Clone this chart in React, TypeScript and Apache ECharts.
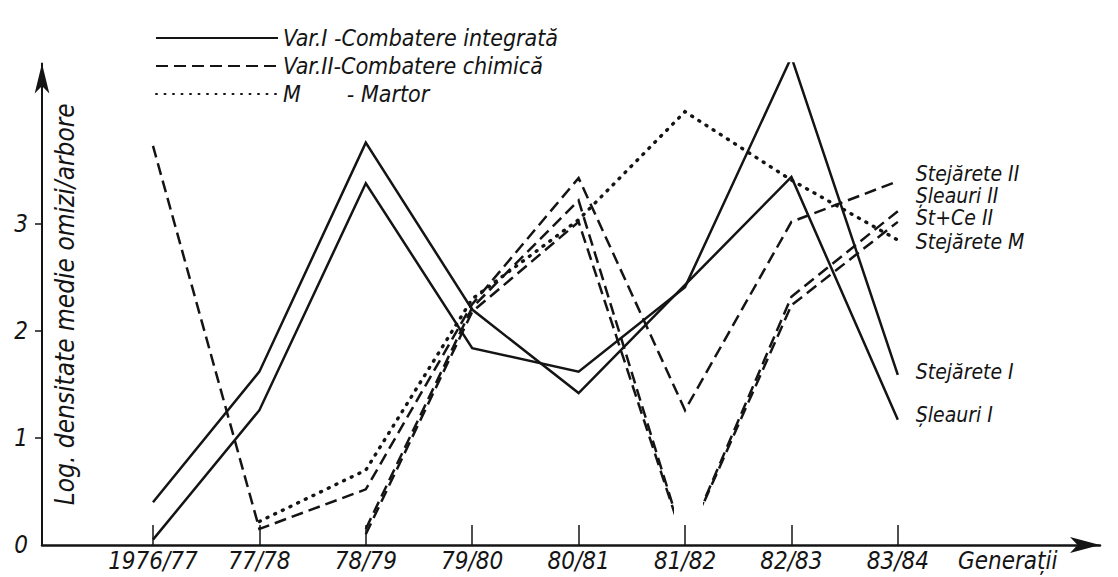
import React, { useEffect, useRef } from "react";
import * as echarts from "echarts";

// ---- data ----
const generations = ["1976/77", "77/78", "78/79", "79/80", "80/81", "81/82", "82/83", "83/84"];
const yTickValues = [0, 1, 2, 3];
const yTickMarks = [1, 2, 3];

const stejareteI = [0.05, 1.26, 3.38, 1.84, 1.62, 2.41, 4.56, 1.59];
const sleauriI = [0.4, 1.62, 3.76, 2.2, 1.42, 2.43, 3.44, 1.17];
const stejareteII = [3.73, 0.15, 0.52, 2.25, 3.43, 1.26, 3.02, 3.4];
const sleauriII = [null, null, 0.15, 2.22, 3.22, 0.0, 2.32, 3.12];
const stCeII = [null, null, 0.1, 2.18, 3.02, 0.0, 2.24, 3.02];
const stejareteM = [null, 0.22, 0.7, 2.3, 3.04, 4.05, 3.41, 2.85];

const legendVarI = "Var.I -Combatere integrată";
const legendVarII = "Var.II-Combatere chimică";
const legendM = "M\u00a0\u00a0\u00a0\u00a0\u00a0\u00a0\u00a0- Martor";

// ---- styles ----
const INK = "#141414";
const FONT = '"DejaVu Sans Condensed", "Liberation Sans Narrow", "DejaVu Sans", sans-serif';
const SOLID: any = "solid";
const DASHED = [12, 6];
const DOTTED = [1, 7.5];

const txt = (size: number) => ({
  fontSize: size,
  fontStyle: "italic" as const,
  fontFamily: FONT,
  color: INK,
});

const toPoints = (arr: (number | null)[]) =>
  arr.map((v, i) => (v == null ? null : [i, v])).filter((p) => p !== null);

function lineSeries(
  name: string,
  values: (number | null)[],
  type: any,
  dy: number,
  opts: { dotted?: boolean; visualColor?: boolean } = {}
) {
  const lineStyle: any = {
    width: opts.dotted ? 3.4 : 2.5,
    type,
    cap: opts.dotted ? "round" : "butt",
    join: "miter",
  };
  if (!opts.visualColor) lineStyle.color = INK;
  return {
    type: "line",
    name,
    data: toPoints(values),
    symbol: "none",
    showSymbol: false,
    silent: true,
    itemStyle: { color: INK },
    lineStyle,
    endLabel: {
      show: true,
      formatter: () => name,
      distance: 18,
      offset: [0, dy],
      lineHeight: 20,
      ...txt(21),
    },
  };
}

function legendSeries(name: string, type: any, dotted = false) {
  return {
    type: "line",
    name,
    data: [],
    symbol: "none",
    itemStyle: { color: INK },
    lineStyle: { color: INK, width: dotted ? 3.4 : 2.8, type, cap: dotted ? "round" : "butt" },
  };
}

export default function App() {
  const ref = useRef<HTMLDivElement>(null);
  useEffect(() => {
    document.body.style.margin = "0";
    const chart = echarts.init(ref.current!, undefined, { renderer: "svg" });
    const catIdx = generations.map((_, i) => i);
    chart.setOption({
      animation: false,
      backgroundColor: "#ffffff",
      grid: { left: 42, right: 18, top: 63.5, bottom: 32 },
      legend: {
        orient: "vertical",
        left: 150,
        top: 21,
        itemWidth: 122,
        itemHeight: 18,
        itemGap: 4,
        selectedMode: false,
        data: [legendVarI, legendVarII, legendM],
        itemStyle: { opacity: 0 },
        textStyle: { ...txt(23), lineHeight: 24 },
      },
      visualMap: {
        show: false,
        type: "piecewise",
        dimension: 0,
        seriesIndex: [6, 7],
        pieces: [
          { lt: 4.9, color: INK },
          { gte: 4.9, lte: 5.17, color: "rgba(20,20,20,0)" },
          { gt: 5.17, color: INK },
        ],
      },
      xAxis: {
        type: "value",
        min: -1.043,
        max: 8.9,
        axisLine: {
          show: true,
          onZero: false,
          lineStyle: { color: INK, width: 2.5 },
          symbol: ["none", "arrow"],
          symbolSize: [12, 30],
        },
        axisTick: {
          show: true,
          inside: true,
          length: 20,
          customValues: catIdx,
          lineStyle: { color: INK, width: 1.5 },
        },
        axisLabel: {
          customValues: catIdx,
          formatter: (v: number) => generations[Math.round(v)] ?? "",
          margin: 4,
          ...txt(24),
        },
        splitLine: { show: false },
        name: "Generații",
        nameLocation: "end",
        nameGap: -142,
        nameTextStyle: { ...txt(24), align: "left", verticalAlign: "top", padding: [4, 0, 0, 0] },
      },
      yAxis: {
        type: "value",
        min: 0,
        max: 4.5,
        axisLine: {
          show: true,
          onZero: false,
          lineStyle: { color: INK, width: 2 },
          symbol: ["none", "arrow"],
          symbolSize: [11, 30],
        },
        axisTick: { show: true, length: 7, customValues: yTickMarks, lineStyle: { color: INK, width: 1.5 } },
        axisLabel: { customValues: yTickValues, margin: 14, ...txt(24) },
        splitLine: { show: false },
        name: "Log. densitate medie omizi/arbore",
        nameLocation: "middle",
        nameGap: -36,
        nameRotate: 90,
        nameTextStyle: txt(26),
      },
      series: [
        legendSeries(legendVarI, SOLID),
        legendSeries(legendVarII, DASHED),
        legendSeries(legendM, DOTTED, true),
        lineSeries("Stejărete I", stejareteI, SOLID, -3),
        lineSeries("Șleauri I", sleauriI, SOLID, -5),
        lineSeries("Stejărete II", stejareteII, DASHED, -7),
        lineSeries("Șleauri II", sleauriII, DASHED, -15, { visualColor: true }),
        lineSeries("St+Ce II", stCeII, DASHED, -4, { visualColor: true }),
        lineSeries("Stejărete M", stejareteM, DOTTED, 2, { dotted: true }),
      ],
    });
    return () => chart.dispose();
  }, []);
  return <div ref={ref} style={{ width: 1118, height: 577, background: "#fff" }} />;
}
